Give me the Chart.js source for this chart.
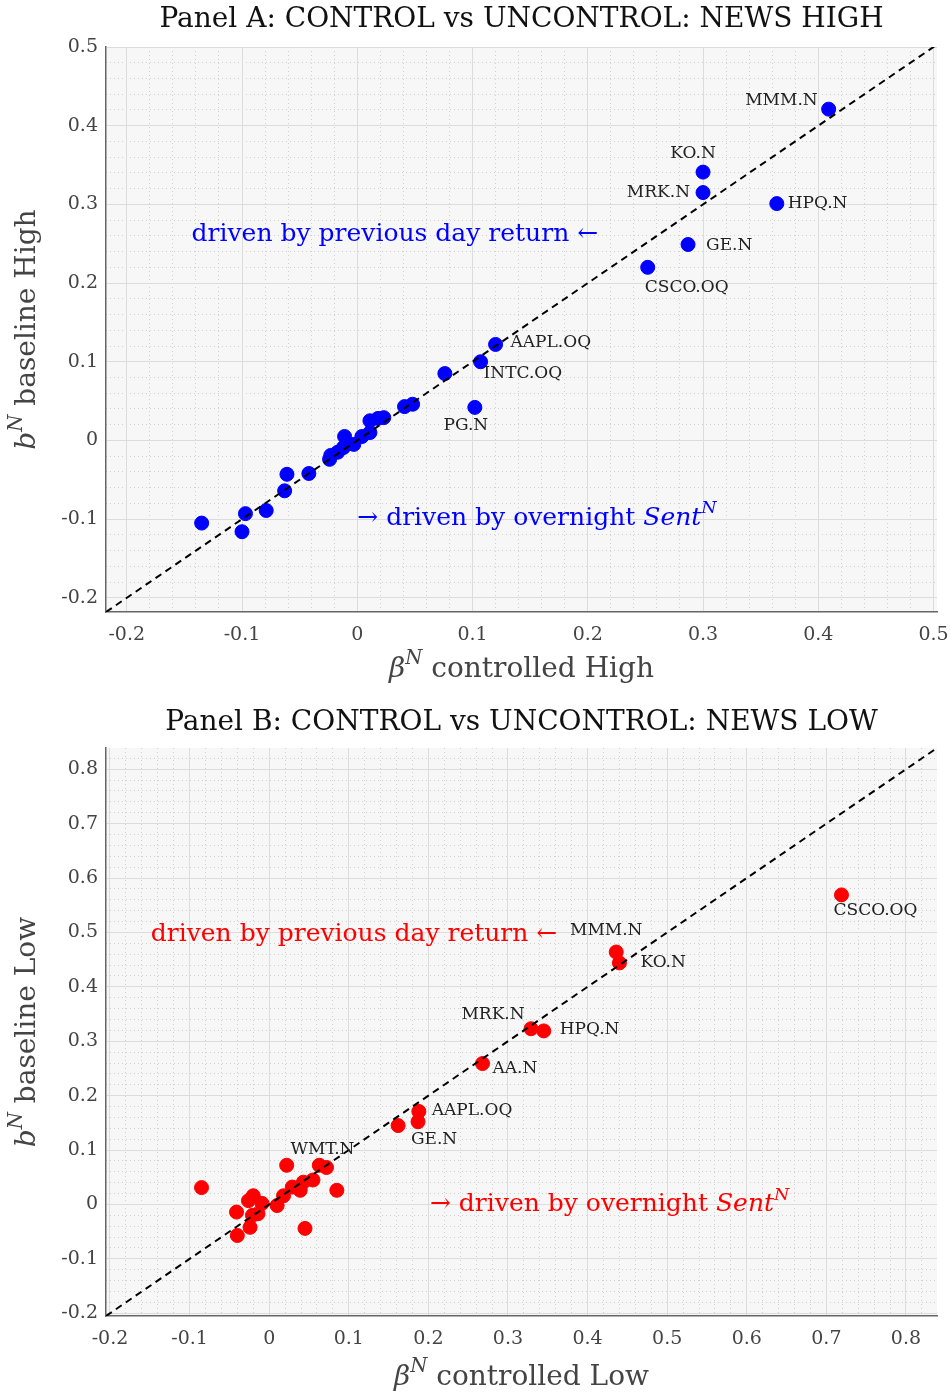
<!DOCTYPE html>
<html>
<head>
<meta charset="utf-8">
<script src="https://cdn.jsdelivr.net/npm/chart.js@4.4.1/dist/chart.umd.min.js"></script>
<style>
body { margin: 0; background: #fff; }
.box { position: relative; width: 951px; }
</style>
</head>
<body>
<div class="box" style="height:695px"><canvas id="chartA"></canvas></div>
<div class="box" style="height:698px"><canvas id="chartB"></canvas></div>
<script>
// ---- Panel A data (news high) ----
var xA = [0.409, 0.300, 0.300, 0.364, 0.287, 0.252, 0.120, 0.107, 0.076, 0.102,
	0.041, 0.048, 0.011, 0.018, 0.023, -0.011, 0.011, 0.004, -0.003, -0.012,
	-0.017, -0.024, -0.023, -0.042, -0.061, -0.063, -0.079, -0.097, -0.100, -0.135];
var yA = [0.421, 0.341, 0.315, 0.301, 0.249, 0.220, 0.122, 0.100, 0.085, 0.042,
	0.043, 0.046, 0.025, 0.028, 0.029, 0.005, 0.010, 0.005, -0.005, -0.009,
	-0.015, -0.024, -0.019, -0.042, -0.043, -0.064, -0.089, -0.093, -0.116, -0.105];
var namesA = ["MMM.N", "KO.N", "MRK.N", "HPQ.N", "GE.N", "CSCO.OQ", "AAPL.OQ", "INTC.OQ", "", "PG.N"];
var ticksA = [-0.2, -0.1, 0, 0.1, 0.2, 0.3, 0.4, 0.5];

// ---- Panel B data (news low) ----
var xB = [0.719, 0.436, 0.440, 0.329, 0.345, 0.268, 0.188, 0.187, 0.162, 0.072,
	0.022, 0.063, -0.085, 0.085, 0.055, 0.043, 0.029, 0.018, 0.010, -0.020,
	-0.026, -0.009, -0.041, -0.021, -0.014, -0.024, -0.040, 0.045, 0.039];
var yB = [0.569, 0.464, 0.444, 0.323, 0.319, 0.259, 0.171, 0.152, 0.145, 0.068,
	0.072, 0.072, 0.031, 0.026, 0.045, 0.041, 0.032, 0.016, -0.002, 0.016,
	0.007, 0.002, -0.014, -0.020, -0.017, -0.042, -0.057, -0.044, 0.026];
var namesB = ["CSCO.OQ", "MMM.N", "KO.N", "MRK.N", "HPQ.N", "AA.N", "AAPL.OQ", "GE.N", "", "WMT.N"];
var ticksB = [-0.2, -0.1, 0, 0.1, 0.2, 0.3, 0.4, 0.5, 0.6, 0.7, 0.8];

// label placement (pixel offsets from the point)
var offsA = {
	"MMM.N": [-11, -9, "right"], "KO.N": [-10, -19, "center"], "MRK.N": [-13, 0, "right"],
	"HPQ.N": [11, 0, "left"], "GE.N": [18, 1, "left"], "CSCO.OQ": [39, 20, "center"],
	"AAPL.OQ": [15, -2, "left"], "INTC.OQ": [3, 12, "left"], "PG.N": [-9, 18, "center"]
};
var offsB = {
	"CSCO.OQ": [34, 16, "center"], "MMM.N": [-10, -21, "center"], "KO.N": [21, 0, "left"],
	"MRK.N": [-38, -14, "center"], "HPQ.N": [16, -1, "left"], "AA.N": [10, 5, "left"],
	"AAPL.OQ": [13, -1, "left"], "GE.N": [16, 18, "center"], "WMT.N": [-4, -18, "center"]
};

var SERIF = "'DejaVu Serif', 'Liberation Serif', serif";

function toPoints(xs, ys) {
	var pts = [];
	for (var i = 0; i < xs.length; i++) pts.push({x: xs[i], y: ys[i]});
	return pts;
}

// draw a line of text made of parts (italic / superscript)
function drawRich(ctx, parts, x, y, size, color, align, rotate) {
	ctx.save();
	ctx.translate(x, y);
	if (rotate) ctx.rotate(-Math.PI / 2);
	ctx.fillStyle = color;
	ctx.textBaseline = "middle";
	ctx.textAlign = "left";
	var total = 0, widths = [];
	parts.forEach(function (p) {
		var s = p.sup ? size * 0.7 : size;
		ctx.font = (p.it ? "italic " : "") + s + "px " + SERIF;
		var w = ctx.measureText(p.t).width;
		widths.push(w);
		total += w;
	});
	var cx = align === "center" ? -total / 2 : (align === "right" ? -total : 0);
	parts.forEach(function (p, i) {
		var s = p.sup ? size * 0.7 : size;
		ctx.font = (p.it ? "italic " : "") + s + "px " + SERIF;
		ctx.fillText(p.t, cx, p.sup ? -size * 0.38 : 0);
		cx += widths[i];
	});
	ctx.restore();
}

function makeChart(id, cfg) {
	var majorTicks = function (scale) {
		scale.ticks = cfg.ticks.map(function (v) { return {value: v}; });
	};
	var minorTicks = function (scale) {
		var t = [];
		for (var k = Math.ceil(scale.min / 0.02); k <= Math.floor(scale.max / 0.02); k++) {
			if (k % 5 !== 0) t.push({value: k * 0.02});
		}
		scale.ticks = t;
	};
	var fitter = function (pos, size) {
		return function (s) {
			if (pos === "left") {
				s.width = size;
				s.paddingTop = 0; s.paddingBottom = 0;
			} else {
				s.height = size;
				s.paddingLeft = 0; s.paddingRight = 0;
			}
		};
	};
	var majorAxis = function (pos, lo, hi, fitSize) {
		return {
			type: "linear", position: pos, min: lo, max: hi,
			afterBuildTicks: majorTicks,
			afterFit: fitter(pos, fitSize),
			grid: {color: "#dcdcdc", lineWidth: 1, drawTicks: false},
			border: {display: true, color: "#666", width: 1.5},
			ticks: {
				color: "#444", padding: pos === "left" ? 8 : 12, font: {family: SERIF, size: 19},
				autoSkip: false, maxRotation: 0,
				callback: function (v) { return String(v); }
			}
		};
	};
	var minorAxis = function (pos, lo, hi) {
		return {
			type: "linear", position: pos, min: lo, max: hi,
			afterBuildTicks: minorTicks,
			afterFit: fitter(pos, 0),
			grid: {color: "#cfcfcf", lineWidth: 1, drawTicks: false},
			border: {display: false, dash: [1, 3]},
			ticks: {display: false}
		};
	};

	var labelPlugin = {
		id: "decor" + id,
		beforeDraw: function (chart) {
			var a = chart.chartArea, ctx = chart.ctx;
			ctx.save();
			ctx.fillStyle = "#f7f7f7";
			ctx.fillRect(a.left, a.top, a.right - a.left, a.bottom - a.top);
			ctx.restore();
		},
		afterDraw: function (chart) {
			var ctx = chart.ctx, sx = chart.scales.x, sy = chart.scales.y, a = chart.chartArea;
			// point labels
			ctx.save();
			ctx.font = "17px " + SERIF;
			ctx.fillStyle = "#222";
			ctx.textBaseline = "middle";
			cfg.names.forEach(function (n, i) {
				if (!n) return;
				var o = cfg.offs[n];
				ctx.textAlign = o[2];
				ctx.fillText(n, sx.getPixelForValue(cfg.xs[i]) + o[0], sy.getPixelForValue(cfg.ys[i]) + o[1]);
			});
			ctx.restore();
			// annotations
			cfg.notes.forEach(function (nt) {
				drawRich(ctx, nt.parts, sx.getPixelForValue(nt.x), sy.getPixelForValue(nt.y), 25, cfg.color, nt.align, false);
			});
			// title
			ctx.save();
			ctx.font = "28px " + SERIF;
			ctx.fillStyle = "#111";
			ctx.textAlign = "center";
			ctx.textBaseline = "middle";
			ctx.fillText(cfg.title, (a.left + a.right) / 2, cfg.titleY);
			ctx.restore();
			// axis titles
			drawRich(ctx, cfg.xTitle, (a.left + a.right) / 2, a.bottom + cfg.xTitleOff, 28, "#444", "center", false);
			drawRich(ctx, cfg.yTitle, 28, (a.top + a.bottom) / 2, 28, "#444", "center", true);
		}
	};

	return new Chart(id, {
		type: "scatter",
		data: {
			datasets: [{
				data: toPoints(cfg.xs, cfg.ys),
				backgroundColor: cfg.color,
				borderColor: cfg.color,
				pointRadius: 7,
				pointHoverRadius: 7,
				order: 1
			}, {
				type: "line",
				data: [{x: cfg.xLo, y: cfg.xLo}, {x: cfg.xHi, y: cfg.xHi}],
				borderColor: "#000",
				borderWidth: 2,
				borderDash: [7, 5],
				pointRadius: 0,
				fill: false,
				order: 0
			}]
		},
		options: {
			responsive: true,
			maintainAspectRatio: false,
			animation: false,
			layout: {padding: {top: cfg.top, right: 14, left: 0, bottom: 0}},
			plugins: {legend: {display: false}, tooltip: {enabled: false}, title: {display: false}},
			scales: {
				xm: minorAxis("bottom", cfg.xLo, cfg.xHi),
				ym: minorAxis("left", cfg.yLo, cfg.yHi),
				x: majorAxis("bottom", cfg.xLo, cfg.xHi, cfg.xFit),
				y: majorAxis("left", cfg.yLo, cfg.yHi, 106)
			}
		},
		plugins: [labelPlugin]
	});
}

makeChart("chartA", {
	xs: xA, ys: yA, names: namesA, offs: offsA, ticks: ticksA,
	xLo: -0.218, xHi: 0.503, yLo: -0.218, yHi: 0.5,
	color: "#0000ff", top: 47, xFit: 83, titleY: 20, xTitleOff: 58,
	title: "Panel A: CONTROL vs UNCONTROL: NEWS HIGH",
	xTitle: [{t: "β", it: true}, {t: "N", it: true, sup: true}, {t: " controlled High"}],
	yTitle: [{t: "b", it: true}, {t: "N", it: true, sup: true}, {t: " baseline High"}],
	notes: [
		{x: 0.209, y: 0.262, align: "right", parts: [{t: "driven by previous day return ←"}]},
		{x: 0.0, y: -0.099, align: "left", parts: [{t: "→ driven by overnight "}, {t: "Sent", it: true}, {t: "N", it: true, sup: true}]}
	]
});

makeChart("chartB", {
	xs: xB, ys: yB, names: namesB, offs: offsB, ticks: ticksB,
	xLo: -0.205, xHi: 0.839, yLo: -0.205, yHi: 0.839,
	color: "#ff0000", top: 53, xFit: 77, titleY: 28, xTitleOff: 62,
	title: "Panel B: CONTROL vs UNCONTROL: NEWS LOW",
	xTitle: [{t: "β", it: true}, {t: "N", it: true, sup: true}, {t: " controlled Low"}],
	yTitle: [{t: "b", it: true}, {t: "N", it: true, sup: true}, {t: " baseline Low"}],
	notes: [
		{x: 0.362, y: 0.497, align: "right", parts: [{t: "driven by previous day return ←"}]},
		{x: 0.202, y: 0.0, align: "left", parts: [{t: "→ driven by overnight "}, {t: "Sent", it: true}, {t: "N", it: true, sup: true}]}
	]
});
</script>
</body>
</html>
